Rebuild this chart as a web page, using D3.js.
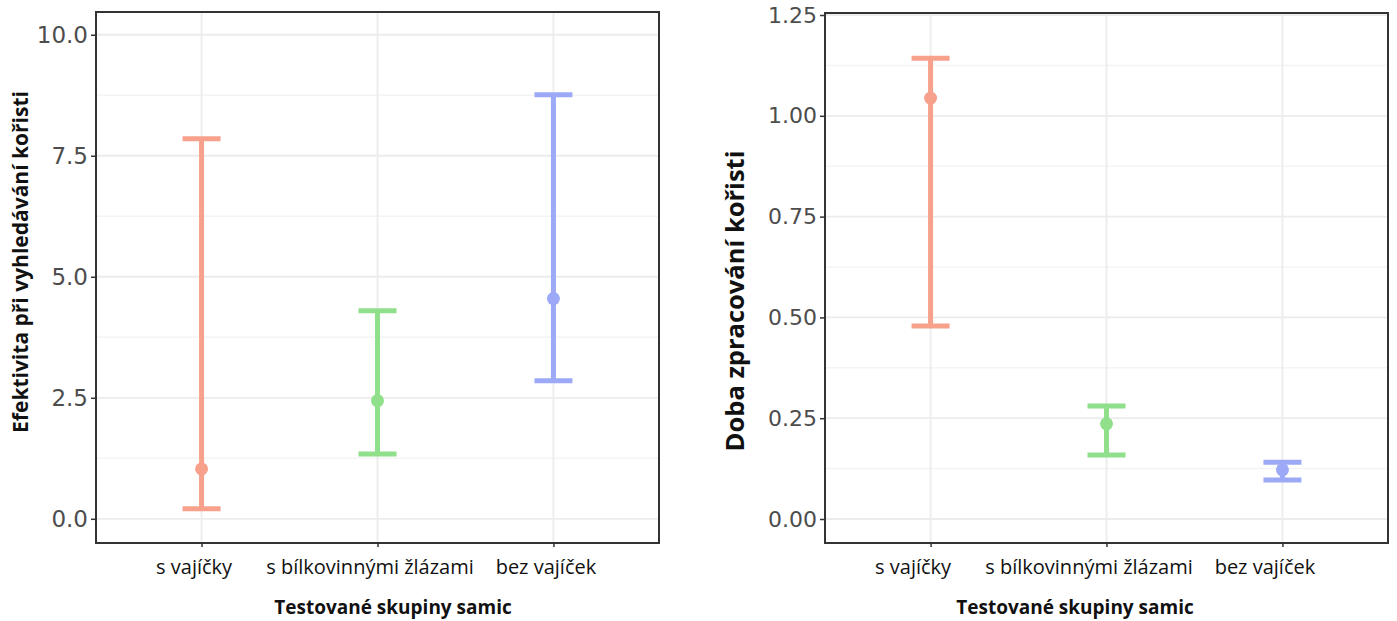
<!DOCTYPE html>
<html>
<head>
<meta charset="utf-8">
<script src="https://cdn.jsdelivr.net/npm/d3@7"></script>
<style>
  body { margin: 0; background: #fff; }
  svg { display: block; }
</style>
</head>
<body>
<svg id="chart" width="1397" height="621"></svg>
<script>
// categories (same for both panels)
var groups = ["s vajíčky", "s bílkovinnými žlázami", "bez vajíček"];
var groupColors = ["#f7a18c", "#90e08b", "#9ba9f6"];

// left panel: search efficiency
var searchMean = [1.03, 2.44, 4.55];
var searchLow = [0.21, 1.34, 2.85];
var searchHigh = [7.85, 4.30, 8.76];
var searchTicks = [0, 2.5, 5, 7.5, 10];
var searchTickLabels = ["0.0", "2.5", "5.0", "7.5", "10.0"];

// right panel: handling time
var handleMean = [1.044, 0.236, 0.122];
var handleLow = [0.479, 0.159, 0.097];
var handleHigh = [1.143, 0.280, 0.141];
var handleTicks = [0, 0.25, 0.5, 0.75, 1, 1.25];
var handleTickLabels = ["0.00", "0.25", "0.50", "0.75", "1.00", "1.25"];

var svg = d3.select("#chart");
svg.append("rect").attr("width", 1397).attr("height", 621).style("fill", "#fff");

function drawPanel(cfg) {
    var x = d3.scalePoint()
        .domain(groups)
        .range([cfg.left, cfg.right])
        .padding(0.6);

    var y = d3.scaleLinear()
        .domain(cfg.domain)
        .range([cfg.bottom, cfg.top]);

    var g = svg.append("g");

    // minor gridlines (half way between ticks)
    var minor = d3.pairs(cfg.ticks).map(function(p) { return (p[0] + p[1]) / 2; });
    g.selectAll(".minor")
        .data(minor)
        .enter().append("line")
        .attr("x1", cfg.left).attr("x2", cfg.right)
        .attr("y1", function(d) { return y(d); })
        .attr("y2", function(d) { return y(d); })
        .style("stroke", "#f4f4f4")
        .style("stroke-width", 1.5);

    // major gridlines
    g.selectAll(".major")
        .data(cfg.ticks)
        .enter().append("line")
        .attr("x1", cfg.left).attr("x2", cfg.right)
        .attr("y1", function(d) { return y(d); })
        .attr("y2", function(d) { return y(d); })
        .style("stroke", "#ececec")
        .style("stroke-width", 1.8);

    g.selectAll(".vgrid")
        .data(groups)
        .enter().append("line")
        .attr("x1", function(d) { return x(d); })
        .attr("x2", function(d) { return x(d); })
        .attr("y1", cfg.top).attr("y2", cfg.bottom)
        .style("stroke", "#ececec")
        .style("stroke-width", 1.8);

    // error bars
    var capHalf = 19;
    g.selectAll(".whisker")
        .data(groups)
        .enter().append("line")
        .attr("x1", function(d) { return x(d); })
        .attr("x2", function(d) { return x(d); })
        .attr("y1", function(d, i) { return y(cfg.low[i]); })
        .attr("y2", function(d, i) { return y(cfg.high[i]); })
        .style("stroke", function(d, i) { return groupColors[i]; })
        .style("stroke-width", 5);

    [cfg.low, cfg.high].forEach(function(vals) {
        g.selectAll(null)
            .data(groups)
            .enter().append("line")
            .attr("x1", function(d) { return x(d) - capHalf; })
            .attr("x2", function(d) { return x(d) + capHalf; })
            .attr("y1", function(d, i) { return y(vals[i]); })
            .attr("y2", function(d, i) { return y(vals[i]); })
            .style("stroke", function(d, i) { return groupColors[i]; })
            .style("stroke-width", 5);
    });

    g.selectAll(".mean")
        .data(groups)
        .enter().append("circle")
        .attr("cx", function(d) { return x(d); })
        .attr("cy", function(d, i) { return y(cfg.mean[i]); })
        .attr("r", 6.5)
        .style("fill", function(d, i) { return groupColors[i]; });

    // frame
    g.append("rect")
        .attr("x", cfg.left).attr("y", cfg.top)
        .attr("width", cfg.right - cfg.left)
        .attr("height", cfg.bottom - cfg.top)
        .style("fill", "none")
        .style("stroke", "#333")
        .style("stroke-width", 2);

    // y axis
    var yAxis = d3.axisLeft(y)
        .tickValues(cfg.ticks)
        .tickFormat(function(d, i) { return cfg.tickLabels[i]; })
        .tickSize(5)
        .tickPadding(3);
    var ya = g.append("g")
        .attr("transform", "translate(" + cfg.left + ",0)")
        .call(yAxis);
    ya.select(".domain").remove();
    ya.selectAll("line").style("stroke", "#333").style("stroke-width", 1.5);
    ya.selectAll("text")
        .style("font-family", "'DejaVu Sans', sans-serif")
        .style("font-size", cfg.tickFont + "px")
        .style("fill", "#4d4d4d");

    // x axis
    var xAxis = d3.axisBottom(x).tickSize(4).tickPadding(13);
    var xa = g.append("g")
        .attr("transform", "translate(0," + cfg.bottom + ")")
        .call(xAxis);
    xa.select(".domain").remove();
    xa.selectAll("line").style("stroke", "#333").style("stroke-width", 1.5);
    xa.selectAll("text")
        .attr("dx", cfg.labelShift)
        .style("font-family", "'Open Sans', sans-serif")
        .style("font-size", "20px")
        .style("fill", "#111");

    // axis titles
    svg.append("text")
        .attr("x", cfg.xTitleX)
        .attr("y", 614)
        .attr("text-anchor", "middle")
        .style("font-family", "'Open Sans', sans-serif")
        .style("font-weight", "bold")
        .style("font-size", "19px")
        .style("fill", "#111")
        .text("Testované skupiny samic");

    svg.append("text")
        .attr("transform", "translate(" + cfg.yTitleX + "," + cfg.yTitleY + ") rotate(-90)")
        .attr("text-anchor", "middle")
        .style("font-family", "'Open Sans', sans-serif")
        .style("font-weight", "bold")
        .style("font-size", cfg.yTitleFont + "px")
        .style("fill", "#111")
        .text(cfg.yTitle);
}

drawPanel({
    left: 96, right: 659, top: 12, bottom: 543,
    domain: [-0.5, 10.47],
    ticks: searchTicks, tickLabels: searchTickLabels, tickFont: 23,
    mean: searchMean, low: searchLow, high: searchHigh,
    labelShift: -8,
    xTitleX: 393,
    yTitle: "Efektivita při vyhledávání kořisti",
    yTitleX: 28, yTitleY: 262, yTitleFont: 21
});

drawPanel({
    left: 825, right: 1388, top: 13, bottom: 543,
    domain: [-0.0595, 1.255],
    ticks: handleTicks, tickLabels: handleTickLabels, tickFont: 22,
    mean: handleMean, low: handleLow, high: handleHigh,
    labelShift: -18,
    xTitleX: 1075,
    yTitle: "Doba zpracování kořisti",
    yTitleX: 744, yTitleY: 301, yTitleFont: 25.5
});
</script>
</body>
</html>
